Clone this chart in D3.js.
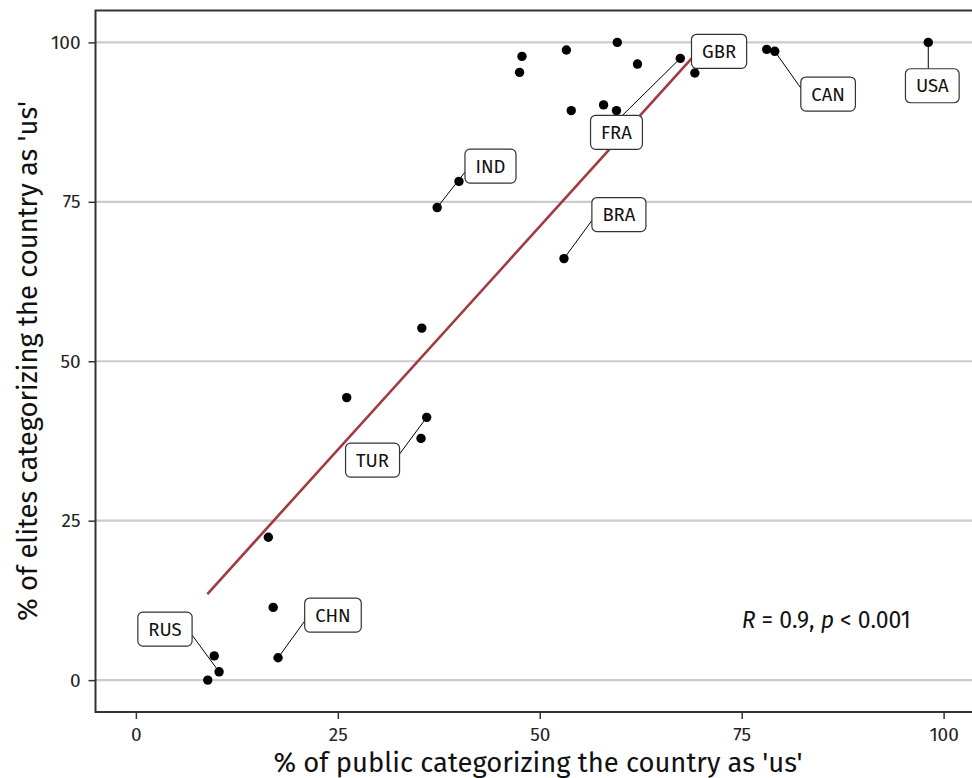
<!DOCTYPE html>
<html>
<head>
<meta charset="utf-8">
<script src="https://cdn.jsdelivr.net/npm/d3@7"></script>
<style>
  body { margin: 0; background: #fff; }
  svg { display: block; font-family: "Fira Sans", "Noto Sans", sans-serif; }
</style>
</head>
<body>
<svg id="chart" width="972" height="778"></svg>
<script>
// values (percent)
var publicPct = [8.9, 9.7, 10.3, 16.4, 17.0, 17.6, 26.1, 35.4, 36.0, 35.3, 37.3, 40.0, 47.5,
                 47.8, 53.3, 53.9, 53.0, 59.6, 57.9, 59.5, 62.1, 67.4, 69.2, 78.1, 79.1, 98.1];
var elitePct  = [0.0, 3.8, 1.3, 22.4, 11.4, 3.5, 44.3, 55.2, 41.2, 37.9, 74.1, 78.2, 95.3,
                 97.8, 98.8, 89.3, 66.1, 100, 90.2, 89.3, 96.6, 97.5, 95.2, 98.9, 98.6, 100];

// labelled countries: index of point + where the label box sits (data units)
var labelCode  = ["RUS", "CHN", "TUR", "IND", "BRA", "FRA", "GBR", "CAN", "USA"];
var labelPoint = [2, 5, 8, 10, 16, 21, 22, 24, 25];
var labelX     = [3.6, 24.4, 29.3, 43.9, 59.8, 59.5, 72.2, 85.7, 98.6];
var labelY     = [8.0, 10.2, 34.5, 80.6, 73.0, 85.9, 98.6, 91.9, 93.2];

// linear fit as drawn
var fitX = [8.85, 70.6];
var fitY = [13.5, 100];

var tickVals = [0, 25, 50, 75, 100];
var corText = { x: 75, y: 10 };

var svg = d3.select("#chart");

var x = d3.scaleLinear().domain([-5, 105]).range([95.5, 984]);
var y = d3.scaleLinear().domain([-5, 105]).range([712, 10.5]);

// grid
svg.append("g").selectAll("line")
    .data(tickVals).enter()
    .append("line")
    .attr("x1", 95.5).attr("x2", 972)
    .attr("y1", function (d) { return y(d); })
    .attr("y2", function (d) { return y(d); })
    .attr("stroke", "#cccccc")
    .attr("stroke-width", 2.2);

// panel border (right side falls outside the picture)
svg.append("rect")
    .attr("x", 95.5).attr("y", 10.5)
    .attr("width", 900).attr("height", 712 - 10.5)
    .attr("fill", "none")
    .attr("stroke", "#333")
    .attr("stroke-width", 2);

// axes
var xAxis = d3.axisBottom(x).tickValues(tickVals).tickSize(7).tickSizeOuter(0).tickPadding(9);
var yAxis = d3.axisLeft(y).tickValues(tickVals).tickSize(7).tickSizeOuter(0).tickPadding(8);

var gx = svg.append("g").attr("transform", "translate(0,712)").call(xAxis);
var gy = svg.append("g").attr("transform", "translate(95.5,0)").call(yAxis);

[gx, gy].forEach(function (g) {
    g.select(".domain").remove();
    g.selectAll(".tick line").attr("stroke", "#333").attr("stroke-width", 1.5);
    g.selectAll(".tick text")
        .attr("fill", "#222")
        .style("font-size", "19px")
        .style("font-family", "'Fira Sans', 'Noto Sans', sans-serif");
});

// axis titles
svg.append("text")
    .attr("x", 538).attr("y", 772)
    .attr("text-anchor", "middle")
    .style("font-size", "27.4px")
    .attr("fill", "#111")
    .text("% of public categorizing the country as 'us'");

svg.append("text")
    .attr("transform", "translate(37,361) rotate(-90)")
    .attr("text-anchor", "middle")
    .style("font-size", "27.4px")
    .attr("fill", "#111")
    .text("% of elites categorizing the country as 'us'");

// label boxes measured first so segments can reach their edges
var labels = labelCode.map(function (code, i) {
    return { code: code, p: labelPoint[i], cx: x(labelX[i]), cy: y(labelY[i]) };
});

var segG = svg.append("g");
var pointG = svg.append("g");
var fitG = svg.append("g");
var labelG = svg.append("g");

pointG.selectAll("circle")
    .data(publicPct).enter()
    .append("circle")
    .attr("cx", function (d) { return x(d); })
    .attr("cy", function (d, i) { return y(elitePct[i]); })
    .attr("r", 4.7)
    .attr("fill", "#000");

fitG.append("path")
    .datum(fitX.map(function (d, i) { return [d, fitY[i]]; }))
    .attr("d", d3.line().x(function (d) { return x(d[0]); }).y(function (d) { return y(d[1]); }))
    .attr("fill", "none")
    .attr("stroke", "#a23b41")
    .attr("stroke-width", 2.6);

var lab = labelG.selectAll("g")
    .data(labels).enter()
    .append("g");

lab.append("rect");
lab.append("text")
    .attr("x", function (d) { return d.cx; })
    .attr("y", function (d) { return d.cy; })
    .attr("dy", "0.36em")
    .attr("text-anchor", "middle")
    .style("font-size", "18.5px")
    .attr("fill", "#111")
    .text(function (d) { return d.code; });

var boxH = 34;
lab.each(function (d) {
    var w = d3.select(this).select("text").node().getComputedTextLength() + 21;
    d.x0 = d.cx - w / 2; d.x1 = d.cx + w / 2;
    d.y0 = d.cy - boxH / 2; d.y1 = d.cy + boxH / 2;
    d3.select(this).select("rect")
        .attr("x", d.x0).attr("y", d.y0)
        .attr("width", w).attr("height", boxH)
        .attr("rx", 5)
        .attr("fill", "#fff")
        .attr("stroke", "#333")
        .attr("stroke-width", 1.2);
});

function clamp(v, a, b) { return Math.max(a, Math.min(b, v)); }

labels.forEach(function (d) {
    var px = x(publicPct[d.p]), py = y(elitePct[d.p]);
    var dxOut = px < d.x0 ? d.x0 - px : (px > d.x1 ? px - d.x1 : 0);
    var dyOut = py < d.y0 ? d.y0 - py : (py > d.y1 ? py - d.y1 : 0);
    if (Math.max(dxOut, dyOut) < 8) return; // too short to draw
    var ex, ey;
    if (dxOut * 1.15 >= dyOut) {
        ex = px < d.cx ? d.x0 : d.x1;
        ey = d.cy + clamp(py - d.cy, -6, 6);
    } else {
        ey = py < d.cy ? d.y0 : d.y1;
        ex = d.cx + clamp(px - d.cx, -6, 6);
    }
    segG.append("line")
        .attr("x1", px).attr("y1", py)
        .attr("x2", ex).attr("y2", ey)
        .attr("stroke", "#000")
        .attr("stroke-width", 1);
});

// correlation note
var cor = svg.append("text")
    .attr("x", x(corText.x)).attr("y", y(corText.y))
    .attr("dy", "0.5em")
    .style("font-size", "23px")
    .attr("fill", "#111");
cor.append("tspan").style("font-style", "italic").text("R");
cor.append("tspan").text(" = 0.9, ");
cor.append("tspan").style("font-style", "italic").text("p");
cor.append("tspan").text(" < 0.001");
</script>
</body>
</html>
